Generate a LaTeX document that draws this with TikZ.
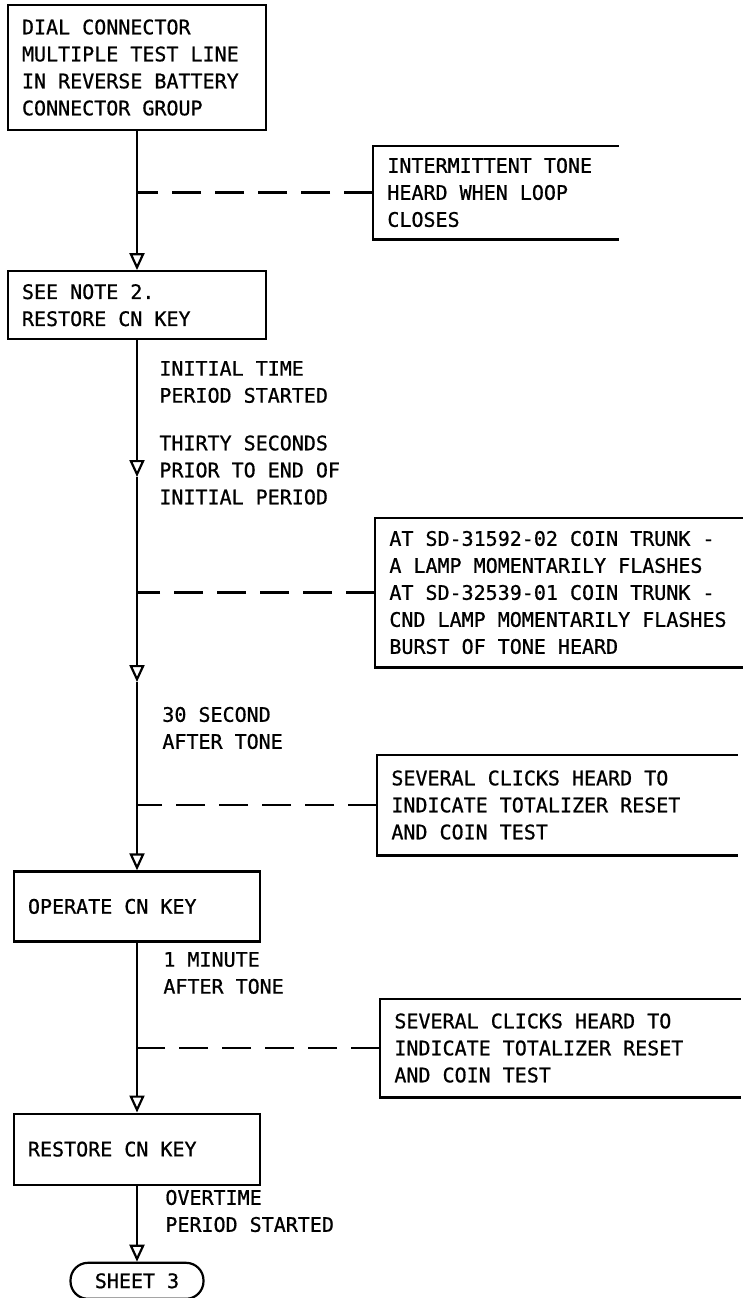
\documentclass[tikz,border=0pt]{standalone}
\usepackage{fontspec}
\setmonofont{DejaVu Sans Mono}[FakeBold=0.8]
\usetikzlibrary{arrows.meta,positioning}

\begin{document}
\begin{tikzpicture}[x=0.5pt, y=-0.5pt,
  every node/.style={font=\ttfamily\fontsize{10pt}{13.5pt}\selectfont},
  stepbox/.style={rectangle, draw, line width=1.1pt, align=flush left,
    inner xsep=7pt, text width=#1},
  sheet/.style={rectangle, draw, line width=1.1pt, rounded corners=8.75pt,
    minimum width=66.5pt, minimum height=18pt},
  remark/.style={align=flush left, inner xsep=7pt, text width=#1, anchor=west},
  note/.style={align=flush left, inner sep=0pt, anchor=west},
  flow/.style={line width=1.1pt, -{Triangle[open, length=8.5pt, width=7.5pt]}},
  tap/.style={line width=1.1pt, dash pattern=on 14.5pt off 7pt},
  bracket/.style={line width=1.1pt}
]
  \useasboundingbox (0,0) rectangle (743,1298);

  % main sequence
  \node[stepbox=115pt, minimum height=62.5pt] (dial) at (137,67.5)
    {DIAL CONNECTOR\\MULTIPLE TEST LINE\\IN REVERSE BATTERY\\CONNECTOR GROUP};
  \node[stepbox=115pt, minimum height=34pt, below=69.5pt of dial] (note2)
    {SEE NOTE 2.\\RESTORE CN KEY};
  \node[stepbox=109pt, minimum height=35pt, below=265pt of note2] (operate)
    {OPERATE CN KEY};
  \node[stepbox=109pt, minimum height=35.5pt, below=85pt of operate] (restore)
    {RESTORE CN KEY};
  \node[sheet, below=38pt of restore] (sheet3) {SHEET 3};

  % timing points on the line
  \coordinate (thirty) at (note2.south |- 0,477);
  \coordinate (burst)  at (note2.south |- 0,682);

  \draw[flow] (dial) -- (note2);
  \draw[flow] (note2) -- (thirty);
  \draw[flow] (thirty) -- (burst);
  \draw[flow] (burst) -- (operate);
  \draw[flow] (operate) -- (restore);
  \draw[flow] (restore) -- (sheet3);

  % labels beside the line
  \node[note] (started)  at (159,382)  {INITIAL TIME\\PERIOD STARTED};
  \node[note] (prior)    at (159,470)  {THIRTY SECONDS\\PRIOR TO END OF\\INITIAL PERIOD};
  \node[note] (after30)  at (162,728)  {30 SECOND\\AFTER TONE};
  \node[note] (after60)  at (163,973)  {1 MINUTE\\AFTER TONE};
  \node[note] (overtime) at (165,1211) {OVERTIME\\PERIOD STARTED};

  % what is heard / seen
  \node[remark=108.5pt, minimum height=46.5pt] (loop) at (373,192.5)
    {INTERMITTENT TONE\\HEARD WHEN LOOP\\CLOSES};
  \node[remark=170pt, minimum height=74.5pt] (flash) at (375,592.5)
    {AT SD-31592-02 COIN TRUNK -\\A LAMP MOMENTARILY FLASHES\\AT SD-32539-01 COIN TRUNK -\\CND LAMP MOMENTARILY FLASHES\\BURST OF TONE HEARD};
  \node[remark=166pt, minimum height=50pt] (clicksA) at (377,805)
    {SEVERAL CLICKS HEARD TO\\INDICATE TOTALIZER RESET\\AND COIN TEST};
  \node[remark=166pt, minimum height=49pt] (clicksB) at (380,1048)
    {SEVERAL CLICKS HEARD TO\\INDICATE TOTALIZER RESET\\AND COIN TEST};

  \foreach \r in {loop,flash,clicksA,clicksB} {
    \draw[tap] (\r.west) -- (\r.west -| dial);
    \draw[bracket] (\r.north east) -- (\r.north west) -- (\r.south west) -- (\r.south east);
  }
\end{tikzpicture}
\end{document}
